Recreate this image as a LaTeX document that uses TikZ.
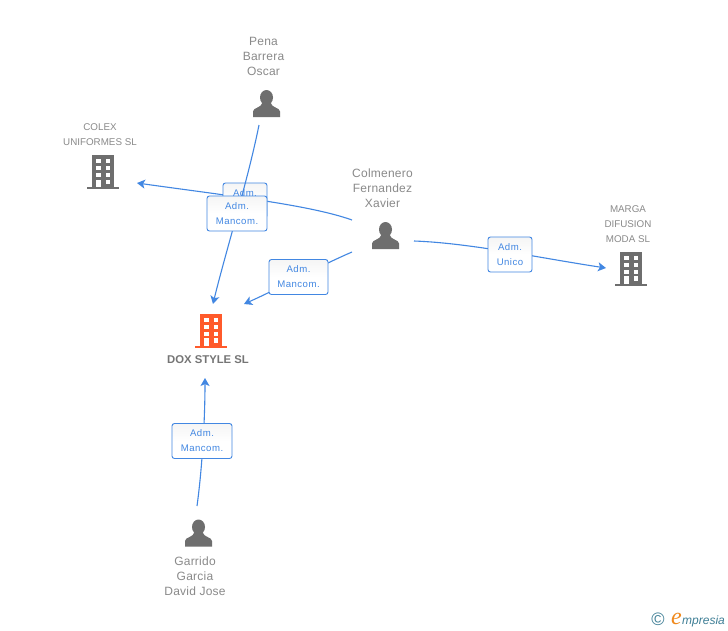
\documentclass[tikz,border=0pt]{standalone}
\usepackage{xcolor}
\usepackage{fontspec}
\usepackage{tikz}
\usetikzlibrary{arrows.meta, positioning}
\setmainfont{Liberation Sans}
\newfontfamily\namefont[LetterSpace=2]{Liberation Sans}
\newfontfamily\boxfont[LetterSpace=5]{Liberation Sans}
\newfontfamily\logofont{Liberation Serif}
\definecolor{linkblue}{HTML}{4287E2}
\definecolor{greyicon}{HTML}{6E6E6E}
\definecolor{greytext}{HTML}{8A8A8A}
\definecolor{doxorange}{HTML}{FF5A2B}
\definecolor{logoteal}{HTML}{3F7F96}
\definecolor{logoorange}{HTML}{F08A1E}
\tikzset{
  iconspot/.style={inner sep=0pt,minimum size=1pt},
  namelabel/.style={align=center,inner sep=0pt,text=greytext,font=\namefont\fontsize{12}{15}\selectfont},
  firmlabel/.style={align=center,inner sep=0pt,text=greytext,font=\fontsize{9.8}{15}\selectfont},
  rolebox/.style={draw=linkblue,line width=0.9pt,rounded corners=2.5pt,top color=black!4,bottom color=white,
    middle color=white,align=center,inner sep=0pt,minimum height=35pt,text=linkblue,font=\boxfont\fontsize{9.6}{15}\selectfont},
  link/.style={draw=linkblue,line width=1.1pt},
  linkhead/.style={link,-{Stealth[length=8pt,width=9pt,inset=2pt]}},
  pics/buildingicon/.style={code={
    \fill[#1] (-11,-17) rectangle (11,15);
    \fill[#1] (-16,15) rectangle (16,17);
    \foreach \row in {-13,-6,1} {
      \fill[white] (-7,\row) rectangle (-2,\row+4);
      \fill[white] (3,\row) rectangle (7,\row+4);
    }
    \fill[white] (-7,7.5) rectangle (-2,15);
    \fill[white] (3,7.5) rectangle (7,12);
  }},
  pics/personicon/.style={code={
    \fill[greyicon] (0,-6) ellipse (6.5 and 7.5);
    \fill[greyicon] (-13.5,13.5) -- (-13.5,8) .. controls (-13.5,4) and (-5,4.5) .. (-4,-1)
      -- (4,-1) .. controls (5,4.5) and (13.5,4) .. (13.5,8) -- (13.5,13.5) -- cycle;
  }}
}
\begin{document}
\begin{tikzpicture}[x=1pt,y=-1pt]
        \useasboundingbox[fill=white] (0,0) rectangle (728,630);
        \begin{scope}[every node/.style={iconspot}]
          \node (pena) at (266.5,103.5) {};
          \node (colmenero) at (385.5,235.5) {};
          \node (garrido) at (198.5,533) {};
          \node (colex) at (103,172) {};
          \node (marga) at (631,268.5) {};
          \node (dox) at (211,330.5) {};
        \end{scope}
        \pic at (pena) {personicon};
        \pic at (colmenero) {personicon};
        \pic at (garrido) {personicon};
        \pic at (colex) {buildingicon=greyicon};
        \pic at (marga) {buildingicon=greyicon};
        \pic at (dox) {buildingicon=doxorange};
        \node[namelabel] (penaname) at (263.5,56) {Pena\\Barrera\\Oscar};
        \node[namelabel] (colmeneroname) at (382.5,188) {Colmenero\\Fernandez\\Xavier};
        \node[namelabel] (garridoname) at (195,576) {Garrido\\Garcia\\David Jose};
        \node[firmlabel] (colexname) at (100,134.5) {COLEX\\UNIFORMES SL};
        \node[firmlabel] (marganame) at (628,224) {MARGA\\DIFUSION\\MODA SL};
        \node[inner sep=0pt,text=greytext!85!black,font=\bfseries\fontsize{11.3}{15}\selectfont] (doxname) at (208,360) {DOX STYLE SL};
        \coordinate (penaout) at ([shift={(-7.5,21.5)}]pena);
        \coordinate (colexout) at ([shift={(-33.5,-15.5)}]colmenero);
        \coordinate (doxout) at ([shift={(-33.5,16.5)}]colmenero);
        \coordinate (margaout) at ([shift={(28.5,5.5)}]colmenero);
        \coordinate (garridoout) at ([shift={(-1.5,-27)}]garrido);
        \coordinate (penain) at ([shift={(2,-26.5)}]dox);
        \coordinate (colmeneroin) at ([shift={(33,-26.5)}]dox);
        \coordinate (garridoin) at ([shift={(-3,18)}]doxname);
        \coordinate (colexin) at ([shift={(34,11)}]colex);
        \coordinate (margain) at ([shift={(-25,-0.5)}]marga);
        \draw[linkhead] (colexout) .. controls (310,205) and (230,196) .. (colexin);
        \node[rolebox,minimum width=44pt] (colexrole) at (245,200.5) {Adm.\\\phantom{Unico}};
        \draw[linkhead] (penaout) .. controls (248,180) and (224,258) .. (penain);
        \node[rolebox,minimum width=60pt] (penarole) at (237,213.5) {Adm.\\Mancom.};
        \draw[linkhead] (doxout) .. controls (315,268) and (280,288) .. (colmeneroin);
        \node[rolebox,minimum width=59pt] (colmenerorole) at (298.5,277) {Adm.\\Mancom.};
        \draw[linkhead] (margaout) .. controls (470,243) and (540,258) .. (margain);
        \node[rolebox,minimum width=44pt] (margarole) at (510,254.5) {Adm.\\Unico};
        \draw[linkhead] (garridoout) .. controls (202,470) and (205,420) .. (garridoin);
        \node[rolebox,minimum width=60pt] (garridorole) at (202,441) {Adm.\\Mancom.};
        \node[inner sep=0pt,text=logoteal,font=\fontsize{18}{18}\selectfont] (copyright) at (658,619) {©};
        \node[inner sep=0pt,anchor=base west,text=logoorange,font=\logofont\itshape\fontsize{24}{24}\selectfont] (logoe) at (671,624) {e};
        \node[inner sep=0pt,anchor=base west,text=logoteal,font=\itshape\fontsize{12}{12}\selectfont] (logotext) at (682,624) {mpresia};
      \end{tikzpicture}
\end{document}
